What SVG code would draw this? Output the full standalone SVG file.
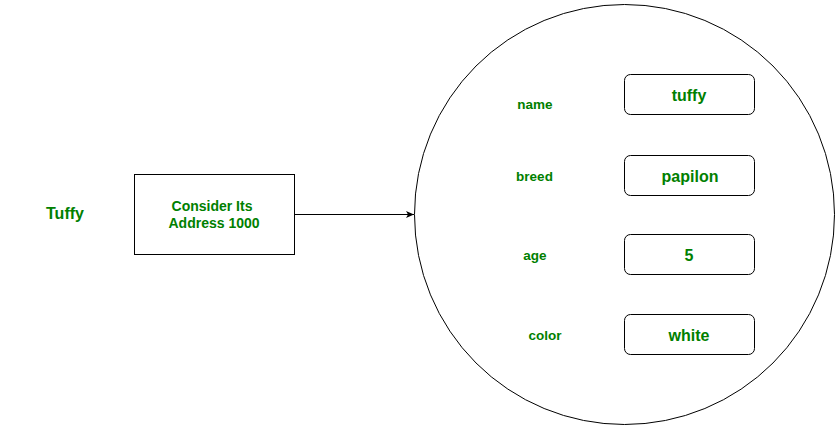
<svg xmlns="http://www.w3.org/2000/svg" width="839" height="429" viewBox="0 0 839 429">
<style>
text{font-family:"Liberation Sans",Arial,sans-serif;font-weight:bold;fill:#008000;text-anchor:middle}
.lbl{font-size:13.5px}
.addr{font-size:14px}
.val{font-size:16px}
.box{fill:#fff;stroke:#000;stroke-width:1}
</style>
<defs>
<marker id="ah" markerWidth="10" markerHeight="10" refX="9" refY="5" orient="auto" markerUnits="userSpaceOnUse">
<path d="M1,1.5 L9,5 L1,8.5 L3,5 Z" fill="#000"/>
</marker>
</defs>
<rect width="839" height="429" fill="#fff"/>
<g id="tuffy-label"><text x="65" y="219" style="font-size:16px">Tuffy</text></g>
<g id="address"><rect class="box" x="134.5" y="174.5" width="160" height="80"/>
<text class="addr" x="212" y="211">Consider Its</text>
<text class="addr" x="214" y="228">Address 1000</text></g>
<g id="object"><circle cx="624.5" cy="214.5" r="210" fill="#fff" stroke="#000"/></g>
<g id="field-name"><text class="lbl" x="535" y="109">name</text>
<rect class="box" x="624.5" y="74.5" width="130" height="40" rx="6"/><text class="val" x="689" y="101">tuffy</text></g>
<g id="field-breed"><text class="lbl" x="534.5" y="181">breed</text>
<rect class="box" x="624.5" y="155.5" width="130" height="40" rx="6"/><text class="val" x="690" y="182">papilon</text></g>
<g id="field-age"><text class="lbl" x="535" y="260">age</text>
<rect class="box" x="624.5" y="234.5" width="130" height="40" rx="6"/><text class="val" x="689" y="261">5</text></g>
<g id="field-color"><text class="lbl" x="545" y="340">color</text>
<rect class="box" x="624.5" y="314.5" width="130" height="40" rx="6"/><text class="val" x="689" y="341">white</text></g>
<g id="connectors"><line x1="294.5" y1="214.5" x2="414" y2="214.5" stroke="#000" marker-end="url(#ah)"/></g>
</svg>
